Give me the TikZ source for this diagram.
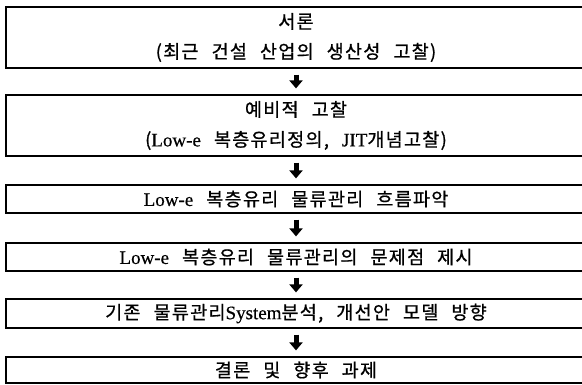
\documentclass[tikz,border=0pt]{standalone}
\usepackage{fontspec}
\setmainfont[LetterSpace=7,WordSpace=2.4,FakeBold=0.8]{Noto Sans CJK KR}
\newfontfamily\lat[FakeBold=0.4]{Liberation Serif}
\newcommand\latin[1]{{\lat\fontsize{19}{30}\selectfont #1}}
\usetikzlibrary{arrows.meta}
\tikzset{
  flowbox/.style={draw=black, line width=1.2pt, minimum width=580pt, inner sep=0pt,
    align=center, font=\fontsize{18.5}{30}\selectfont},
  downarrow/.style={line width=5pt, -{Triangle[width=13pt,length=8pt]},
    shorten <=6pt, shorten >=6pt},
}
\begin{document}
\begin{tikzpicture}[x=1pt,y=1pt]
\useasboundingbox (0,0) rectangle (582,385);
\clip (0,0) rectangle (582,385);
\node[flowbox, minimum height=61pt] (b1) at (296,347.5) {서론\\(최근 건설 산업의 생산성 고찰)};
\node[flowbox, minimum height=61pt] (b2) at (296,259.5) {예비적 고찰\\(\latin{Low-e} 복층유리정의, \latin{JIT}개념고찰)};
\node[flowbox, minimum height=28pt] (b3) at (296,186) {\latin{Low-e} 복층유리 물류관리 흐름파악};
\node[flowbox, minimum height=28pt] (b4) at (296,128) {\latin{Low-e} 복층유리 물류관리의 문제점 제시};
\node[flowbox, minimum height=29pt] (b5) at (296,71.5) {기존 물류관리\latin{System}분석, 개선안 모델 방향};
\node[flowbox, minimum height=26pt] (b6) at (296,15) {결론 및 향후 과제};
\draw[downarrow] (b1.south) -- (b2.north);
\draw[downarrow] (b2.south) -- (b3.north);
\draw[downarrow] (b3.south) -- (b4.north);
\draw[downarrow] (b4.south) -- (b5.north);
\draw[downarrow] (b5.south) -- (b6.north);
\end{tikzpicture}
\end{document}
